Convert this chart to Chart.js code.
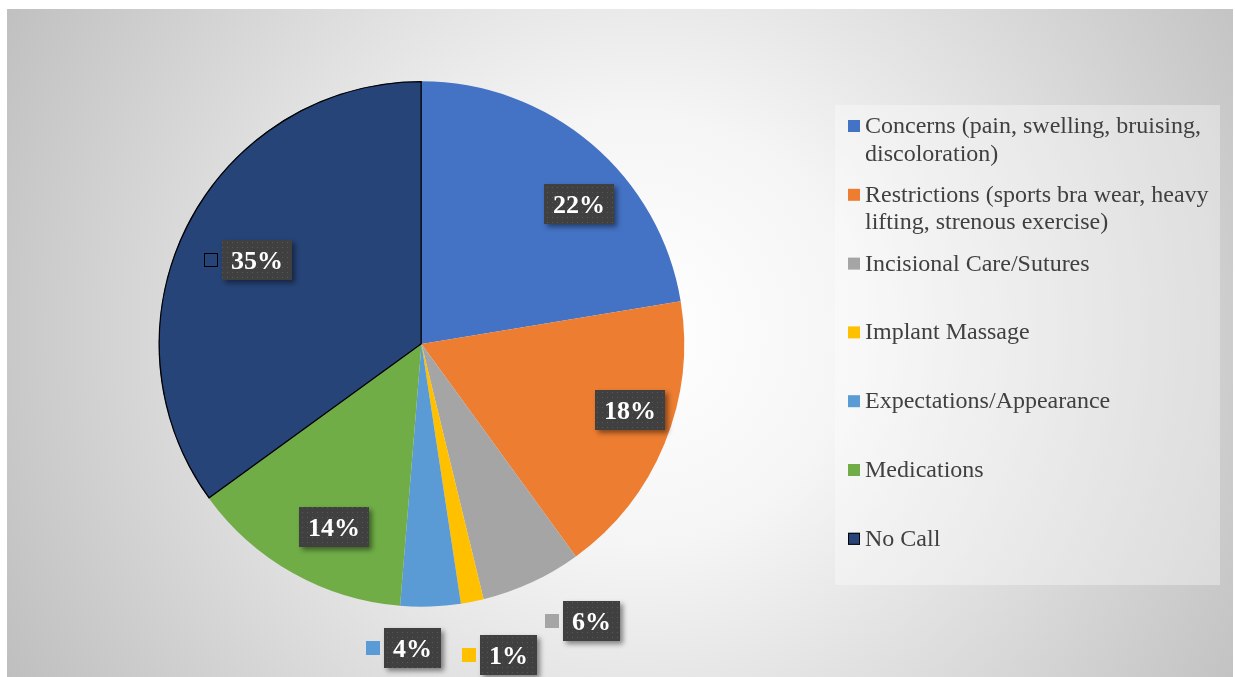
<!DOCTYPE html>
<html>
<head>
<meta charset="utf-8">
<script src="https://cdn.jsdelivr.net/npm/chart.js@4"></script>
<style>
    html, body { margin: 0; padding: 0; background: #fff; }
    #wrap { width: 1235px; height: 677px; }
</style>
</head>
<body>
<div id="wrap"><canvas id="chart1" width="1235" height="677"></canvas></div>
<script>
const categories = [
    'Concerns (pain, swelling, bruising, discoloration)',
    'Restrictions (sports bra wear, heavy lifting, strenous exercise)',
    'Incisional Care/Sutures',
    'Implant Massage',
    'Expectations/Appearance',
    'Medications',
    'No Call'
];
const shares = [22.4, 17.6, 6.2, 1.4, 3.7, 13.7, 35.0];
const colors = ['#4472C4', '#ED7D31', '#A5A5A5', '#FFC000', '#5B9BD5', '#70AD47', '#264478'];

// label placement tweaks (polar, relative to each slice)
const labelRadius = [0.80, 0.83, 1.235, 1.23, 1.155, 0.77, 0.70];
const labelTurn = [8, -4.7, -6.7, -4.5, 3.6, -3.7, 0];
const labelKey = [false, false, true, true, true, false, true];

const serif = '"Liberation Serif", "Times New Roman", serif';

function makePattern(ctx) {
    const p = document.createElement('canvas');
    p.width = 5; p.height = 5;
    const pc = p.getContext('2d');
    pc.fillStyle = '#404040';
    pc.fillRect(0, 0, 5, 5);
    pc.fillStyle = '#585858';
    pc.fillRect(2, 2, 1, 1);
    return ctx.createPattern(p, 'repeat');
}

const backdrop = {
    id: 'backdrop',
    beforeDraw(chart) {
        const ctx = chart.ctx;
        ctx.save();
        ctx.fillStyle = '#ffffff';
        ctx.fillRect(0, 0, chart.width, chart.height);
        const g = ctx.createRadialGradient(640, 330, 0, 640, 330, 720);
        g.addColorStop(0, '#ffffff');
        g.addColorStop(0.3, '#f5f5f5');
        g.addColorStop(1, '#bfbfbf');
        ctx.fillStyle = g;
        ctx.fillRect(7, 9, 1226, 668);
        // legend panel
        ctx.fillStyle = 'rgba(255,255,255,0.35)';
        ctx.fillRect(835, 105, 385, 480);
        ctx.restore();
    }
};

function wrapText(ctx, text, maxW) {
    const words = text.split(' ');
    const lines = [];
    let line = '';
    words.forEach(w => {
        const test = line ? line + ' ' + w : w;
        if (ctx.measureText(test).width > maxW && line) {
            lines.push(line);
            line = w;
        } else {
            line = test;
        }
    });
    lines.push(line);
    return lines;
}

const sideLegend = {
    id: 'sideLegend',
    afterDraw(chart) {
        const ctx = chart.ctx;
        ctx.save();
        ctx.font = '24px ' + serif;
        ctx.textBaseline = 'alphabetic';
        categories.forEach((c, i) => {
            const base = 133 + i * 68.8;
            ctx.fillStyle = colors[i];
            ctx.fillRect(848, base - 13, 12, 12);
            if (i === categories.length - 1) {
                ctx.strokeStyle = '#000';
                ctx.lineWidth = 1;
                ctx.strokeRect(848.5, base - 12.5, 11, 11);
            }
            ctx.fillStyle = '#404040';
            wrapText(ctx, c, 352).forEach((ln, j) => {
                ctx.fillText(ln, 865, base + j * 27.5);
            });
        });
        ctx.restore();
    }
};

const sliceLabels = {
    id: 'sliceLabels',
    afterDatasetsDraw(chart) {
        const ctx = chart.ctx;
        const meta = chart.getDatasetMeta(0);
        const pattern = makePattern(ctx);
        ctx.save();
        ctx.font = 'bold 26px ' + serif;
        meta.data.forEach((arc, i) => {
            const p = arc.getProps(['x', 'y', 'startAngle', 'endAngle', 'outerRadius'], true);
            const a = (p.startAngle + p.endAngle) / 2 + labelTurn[i] * Math.PI / 180;
            const r = p.outerRadius * labelRadius[i];
            const cx = p.x + r * Math.cos(a);
            const cy = p.y + r * Math.sin(a);
            const txt = Math.round(shares[i]) + '%';
            const w = ctx.measureText(txt).width + 18;
            const h = 40;
            const bx = Math.round(cx - w / 2);
            const by = Math.round(cy - h / 2);

            ctx.save();
            ctx.shadowColor = 'rgba(0,0,0,0.45)';
            ctx.shadowBlur = 5;
            ctx.shadowOffsetX = 3;
            ctx.shadowOffsetY = 3;
            ctx.fillStyle = '#404040';
            ctx.fillRect(bx, by, w, h);
            ctx.restore();
            ctx.fillStyle = pattern;
            ctx.fillRect(bx, by, w, h);

            ctx.fillStyle = '#ffffff';
            ctx.textAlign = 'center';
            ctx.textBaseline = 'alphabetic';
            ctx.fillText(txt, bx + w / 2, by + h / 2 + 9);

            if (labelKey[i]) {
                ctx.fillStyle = colors[i];
                ctx.fillRect(bx - 18, by + h / 2 - 7, 14, 14);
                if (i === shares.length - 1) {
                    ctx.strokeStyle = '#000';
                    ctx.lineWidth = 1;
                    ctx.strokeRect(bx - 17.5, by + h / 2 - 6.5, 13, 13);
                }
            }
        });
        ctx.restore();
    }
};

const ctx1 = document.getElementById('chart1');
const chart1 = new Chart(ctx1, {
    type: 'pie',
    data: {
        labels: categories,
        datasets: [{
            data: shares,
            backgroundColor: colors,
            borderColor: ['rgba(0,0,0,0)', 'rgba(0,0,0,0)', 'rgba(0,0,0,0)', 'rgba(0,0,0,0)', 'rgba(0,0,0,0)', 'rgba(0,0,0,0)', '#000000'],
            borderWidth: [0, 0, 0, 0, 0, 0, 1],
            borderAlign: 'inner'
        }]
    },
    options: {
        responsive: false,
        animation: false,
        devicePixelRatio: 1,
        layout: { padding: { left: 158.5, right: 550.5, top: 81, bottom: 70 } },
        plugins: {
            legend: { display: false },
            tooltip: { enabled: false }
        }
    },
    plugins: [backdrop, sliceLabels, sideLegend]
});
</script>
</body>
</html>
